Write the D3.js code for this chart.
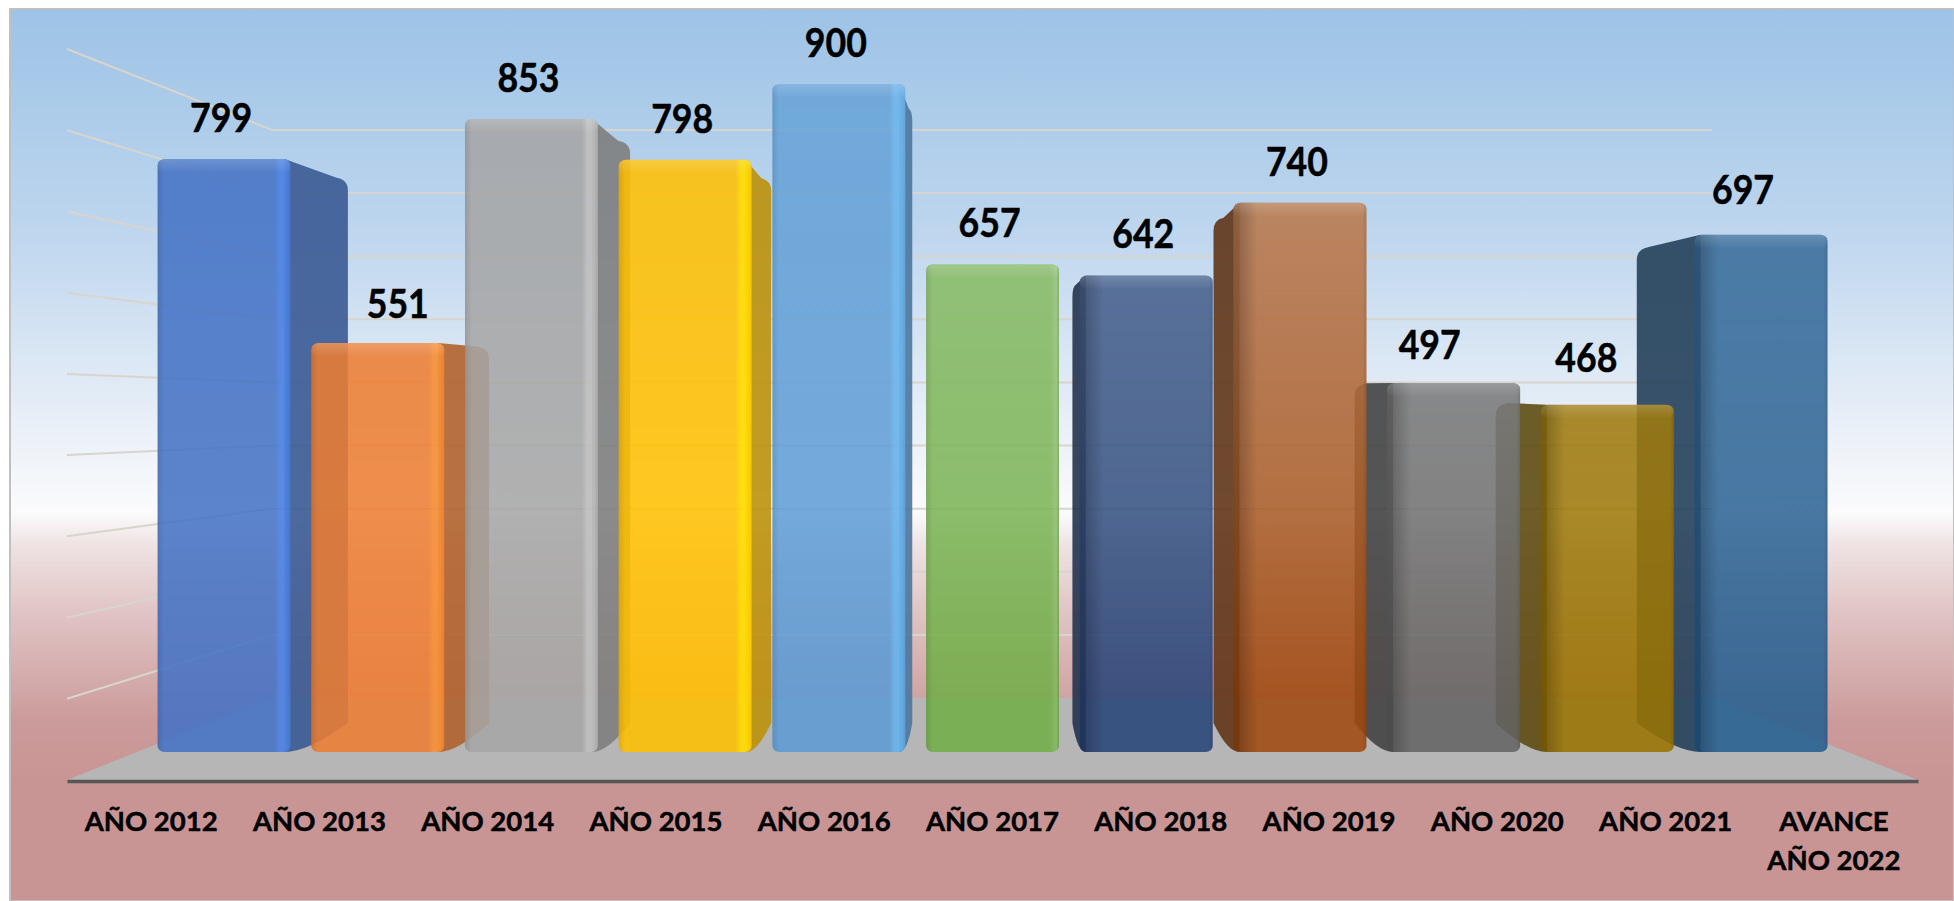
<!DOCTYPE html>
<html>
<head>
<meta charset="utf-8">
<script src="https://cdn.jsdelivr.net/npm/d3@7"></script>
<style>
  html, body { margin: 0; padding: 0; background: #fff; }
  svg { display: block; }
  text { font-family: Lato, "Open Sans", sans-serif; font-weight: 700; fill: #000; stroke: #000; stroke-width: 0.5px; }
</style>
</head>
<body>
<svg id="chart" width="1954" height="901"></svg>
<script>
// Chart values
const categories = ['AÑO 2012', 'AÑO 2013', 'AÑO 2014', 'AÑO 2015', 'AÑO 2016', 'AÑO 2017',
                    'AÑO 2018', 'AÑO 2019', 'AÑO 2020', 'AÑO 2021', 'AVANCE AÑO 2022'];
const values = [799, 551, 853, 798, 900, 657, 642, 740, 497, 468, 697];
const colors = ['#4472C4', '#ED7D31', '#A5A5A5', '#FFC000', '#5B9BD5', '#70AD47',
                '#264478', '#9E480E', '#636363', '#997300', '#255E91'];
const gridTicks = [0, 100, 200, 300, 400, 500, 600, 700, 800, 900];

const WIDTH = 1954, HEIGHT = 901;
const svg = d3.select('#chart');
const defs = svg.append('defs');

// Perspective of the 3D box: back plane is the front plane shrunk towards a vanishing point
const VANISH_X = 990, VANISH_Y = 398, DEPTH = 0.918;
const backX = x => VANISH_X + (x - VANISH_X) * DEPTH;
const backY = y => VANISH_Y + (y - VANISH_Y) * DEPTH;

// Scales
const xBar = d3.scaleBand().domain(categories).range([157.6, 1827.5]).paddingInner(0.135).paddingOuter(0);
const yBar = d3.scaleLinear().domain([0, 900]).range([752, 84]);
const xAxisScale = d3.scaleBand().domain(categories).range([67, 1918]);
const yWallBack = d3.scaleLinear().domain([0, 900]).range([698, 130]);
const yWallFront = d3.scaleLinear().domain([0, 900]).range([780, 49]);
const WALL_BACK_LEFT = 272, WALL_BACK_RIGHT = 1712;

// Labels the author of the original dragged away from their default place
const labelNudge = { 'AÑO 2013': [23, 2], 'AVANCE AÑO 2022': [-15, -4], 'AÑO 2021': [-18, -6], 'AÑO 2020': [-21, 3] };

// How much the light catches each bar towards its top
const sheen = { 'AÑO 2016': 0.08, 'AÑO 2017': 0.16, 'AÑO 2018': 0.15, 'AÑO 2019': 0.26,
                'AÑO 2020': 0.14, 'AÑO 2021': 0.05, 'AVANCE AÑO 2022': 0.09 };

// Panel background
const bg = defs.append('linearGradient').attr('id', 'panelFill')
  .attr('x1', 0).attr('y1', 0).attr('x2', 0).attr('y2', 1);
[[0, '#9dc3e6'], [0.25, '#bed6ee'], [0.45, '#e6eef7'], [0.565, '#fbfbfc'], [0.6, '#efe3e3'],
 [0.68, '#e0c3c3'], [0.8, '#cb9a9a'], [0.865, '#c99594'], [1, '#c99594']]
  .forEach(s => bg.append('stop').attr('offset', s[0]).attr('stop-color', s[1]));

svg.append('rect').attr('x', 10).attr('y', 9).attr('width', WIDTH - 10).attr('height', HEIGHT - 9)
  .attr('fill', 'url(#panelFill)').attr('stroke', '#c0c0c0').attr('stroke-width', 2);

// Bevel overlays for the front faces
function addBevel(id, stops) {
  const g = defs.append('linearGradient').attr('id', id).attr('x1', 0).attr('y1', 0).attr('x2', 1).attr('y2', 0);
  stops.forEach(s => g.append('stop').attr('offset', s[0]).attr('stop-color', s[1]).attr('stop-opacity', s[2]));
}
addBevel('bevelRightBar', [[0, '#000', 0.22], [0.05, '#000', 0.2], [0.18, '#000', 0], [0.97, '#000', 0], [1, '#000', 0.1]]);
addBevel('bevelMidBar', [[0, '#000', 0.1], [0.05, '#000', 0], [0.93, '#fff', 0], [0.98, '#fff', 0.12], [1, '#000', 0.06]]);

const topRim = defs.append('linearGradient').attr('id', 'topRim').attr('x1', 0).attr('y1', 0).attr('x2', 0).attr('y2', 1);
topRim.append('stop').attr('offset', 0).attr('stop-color', '#fff').attr('stop-opacity', 0.16);
topRim.append('stop').attr('offset', 1).attr('stop-color', '#fff').attr('stop-opacity', 0);

const faceSheen = defs.append('linearGradient').attr('id', 'faceSheen').attr('x1', 0).attr('y1', 0).attr('x2', 0).attr('y2', 1);
faceSheen.append('stop').attr('offset', 0).attr('stop-color', '#fff').attr('stop-opacity', 1);
faceSheen.append('stop').attr('offset', 0.9).attr('stop-color', '#fff').attr('stop-opacity', 0);

// Back wall and left wall gridlines
const grid = svg.append('g').attr('id', 'grid').attr('fill', 'none').attr('stroke', '#d8d4ce').attr('stroke-width', 2);
grid.selectAll('path')
  .data(gridTicks.filter(d => d > 0))
  .join('path')
  .attr('d', d => d3.line()([[67, yWallFront(d)], [WALL_BACK_LEFT, yWallBack(d)], [WALL_BACK_RIGHT, yWallBack(d)]]));

// Floor
svg.append('path')
  .attr('d', d3.line()([[67, yWallFront(0)], [WALL_BACK_LEFT, yWallBack(0)], [WALL_BACK_RIGHT, yWallBack(0)], [1918, yWallFront(0)]]) + 'Z')
  .attr('fill', '#b6b6b6');

// X axis
const xAxis = svg.append('g').attr('id', 'x-axis')
  .attr('transform', `translate(0, ${yWallFront(0) + 1})`)
  .call(d3.axisBottom(xAxisScale).tickSize(0).tickPadding(0));
xAxis.select('.domain').attr('stroke', '#565656').attr('stroke-width', 3.5);
xAxis.selectAll('text').remove();
xAxis.selectAll('.tick').each(function(d) {
  // Long labels wrap after their first word
  const lines = d.length > 10 ? [d.split(' ')[0], d.split(' ').slice(1).join(' ')] : [d];
  const t = d3.select(this).append('text').attr('text-anchor', 'middle').attr('font-size', 27.5);
  lines.forEach((line, i) => t.append('tspan').attr('x', 0).attr('y', 50 + i * 39).text(line));
});

// Side wall of a bar, with rounded top and curved foot
function sidePath(xFront, value) {
  const yT = yBar(value), yB = yBar(0);
  const xBack = backX(xFront), yBT = backY(yT), yBB = backY(yB);
  const s = xBack > xFront ? 1 : -1;
  const r = Math.min(12, Math.abs(xBack - xFront) / 2);
  const path = d3.path();
  path.moveTo(xFront - s * 6, yT);
  path.lineTo(xBack - s * r, yBT - 1);
  path.quadraticCurveTo(xBack, yBT + 1, xBack, yBT + 12);
  path.lineTo(xBack, yBB);
  path.quadraticCurveTo(xFront + (xBack - xFront) * 0.3, yB, xFront - s * 6, yB);
  path.closePath();
  return path.toString();
}

// Bars are painted from the outside towards the middle, so inner ones overlap outer walls
const rows = categories.map((c, i) => ({ cat: c, value: values[i], color: colors[i], idx: i }));
const center = d => xBar(d.cat) + xBar.bandwidth() / 2;
const paintOrder = rows.slice().sort((a, b) => Math.abs(center(b) - VANISH_X) - Math.abs(center(a) - VANISH_X));

const bars = svg.append('g').attr('id', 'bars').selectAll('g')
  .data(paintOrder)
  .join('g');

bars.each(function(d) {
  const g = d3.select(this);
  const xl = xBar(d.cat), xr = xl + xBar.bandwidth();
  const yT = yBar(d.value), h = yBar(0) - yT;
  const isLeft = xr < VANISH_X - 20, isRight = xl > VANISH_X + 20;

  if (isLeft || isRight) {
    const dark = d3.interpolateRgb(d.color, '#222')(isLeft ? 0.3 : 0.5);
    g.append('path').attr('d', sidePath(isLeft ? xr : xl, d.value))
      .attr('fill', dark).attr('fill-opacity', 0.9);
  }
  const face = () => g.append('rect').attr('x', xl).attr('y', yT)
    .attr('width', xBar.bandwidth()).attr('height', h).attr('rx', 7).attr('ry', 6);
  face().attr('fill', d.color).attr('fill-opacity', 0.87);
  if (sheen[d.cat]) face().attr('fill', 'url(#faceSheen)').attr('opacity', sheen[d.cat]);

  // Left bars catch a coloured highlight on the right corner
  let bevel = isRight ? 'url(#bevelRightBar)' : 'url(#bevelMidBar)';
  if (isLeft) {
    const hi = d3.color(d.color).brighter(0.7).formatHex();
    bevel = `url(#bevel-${d.idx})`;
    const grad = defs.append('linearGradient').attr('id', `bevel-${d.idx}`).attr('x1', 0).attr('y1', 0).attr('x2', 1).attr('y2', 0);
    [[0, '#000', 0.1], [0.05, '#000', 0], [0.88, hi, 0], [0.92, hi, 0.5], [0.97, hi, 0.45], [1, hi, 0.1]]
      .forEach(s => grad.append('stop').attr('offset', s[0]).attr('stop-color', s[1]).attr('stop-opacity', s[2]));
  }
  face().attr('fill', bevel);
  g.append('rect').attr('x', xl).attr('y', yT).attr('width', xBar.bandwidth()).attr('height', 14)
    .attr('rx', 7).attr('fill', 'url(#topRim)');
});

// Value labels
svg.append('g').attr('id', 'value-labels').selectAll('text')
  .data(rows)
  .join('text')
  .attr('text-anchor', 'middle')
  .attr('font-size', 41)
  .attr('textLength', 62)
  .attr('lengthAdjust', 'spacingAndGlyphs')
  .attr('x', d => center(d) - 3 + (labelNudge[d.cat] ? labelNudge[d.cat][0] : 0))
  .attr('y', d => yBar(d.value) - 27 + (labelNudge[d.cat] ? labelNudge[d.cat][1] : 0))
  .text(d => d.value);
</script>
</body>
</html>
